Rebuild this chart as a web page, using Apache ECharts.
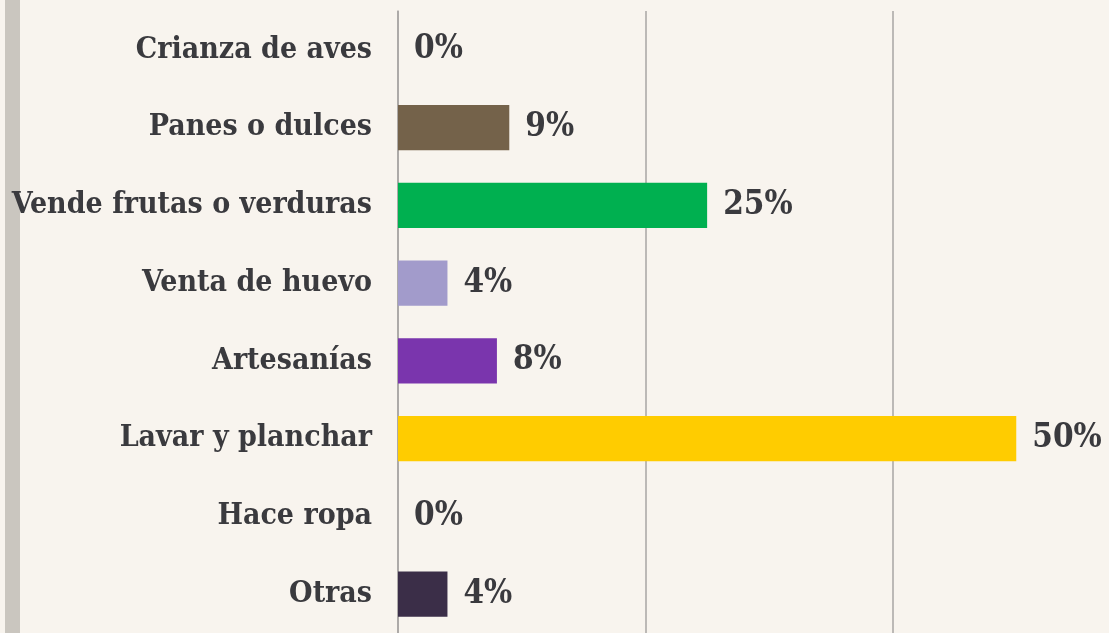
<!DOCTYPE html>
<html>
<head>
<meta charset="utf-8">
<script src="https://cdn.jsdelivr.net/npm/echarts@6/dist/echarts.min.js"></script>
<style>
  html, body { margin: 0; padding: 0; background: #f8f4ee; }
  #chart { width: 1109px; height: 633px; }
</style>
</head>
<body>
<div id="chart"></div>
<script>
// categorias (de arriba hacia abajo)
var categories = ['Crianza de aves', 'Panes o dulces', 'Vende frutas o verduras', 'Venta de huevo',
    'Artesanías', 'Lavar y planchar', 'Hace ropa', 'Otras'];
var values = [0, 9, 25, 4, 8, 50, 0, 4];
var colors = ['#74624a', '#74624a', '#00b050', '#a29bcb', '#7a35ad', '#ffcc00', '#3b2e48', '#3b2e48'];
// el eje sigue mas alla del borde derecho (la imagen esta recortada en ~57.5%)
var xMin = 0, xMax = 57.5, xStep = 20;

var font = '"DejaVu Serif Condensed", "DejaVu Serif", Georgia, serif';

var chart = echarts.init(document.getElementById('chart'));
chart.setOption({
    backgroundColor: '#f8f4ee',
    animation: false,
    graphic: [{
        type: 'rect',
        shape: { x: 5, y: 0, width: 15, height: 633 },
        style: { fill: '#cac6bf' }
    }],
    grid: { left: 398, right: 0, top: 11, bottom: 0, containLabel: false },
    xAxis: {
        type: 'value',
        min: xMin,
        max: xMax,
        interval: xStep,
        axisLabel: { show: false },
        axisLine: { show: false },
        axisTick: { show: false },
        splitLine: { showMaxLine: false, lineStyle: { color: '#a8a6a3', width: 1.5 } }
    },
    yAxis: {
        type: 'category',
        inverse: true,
        data: categories,
        axisLine: { show: true, lineStyle: { color: '#a8a6a3', width: 1.5 } },
        axisTick: { show: false },
        axisLabel: {
            margin: 26,
            color: '#3a3a3e',
            fontFamily: font,
            fontWeight: 'bold',
            fontSize: 30
        }
    },
    series: [{
        type: 'bar',
        barCategoryGap: '42%',
        data: values.map(function (v, i) {
            return { value: v, itemStyle: { color: colors[i] } };
        }),
        label: {
            show: true,
            position: 'right',
            distance: 16,
            formatter: '{c}%',
            color: '#3a3a3e',
            fontFamily: font,
            fontWeight: 'bold',
            fontSize: 33
        }
    }]
});
</script>
</body>
</html>
